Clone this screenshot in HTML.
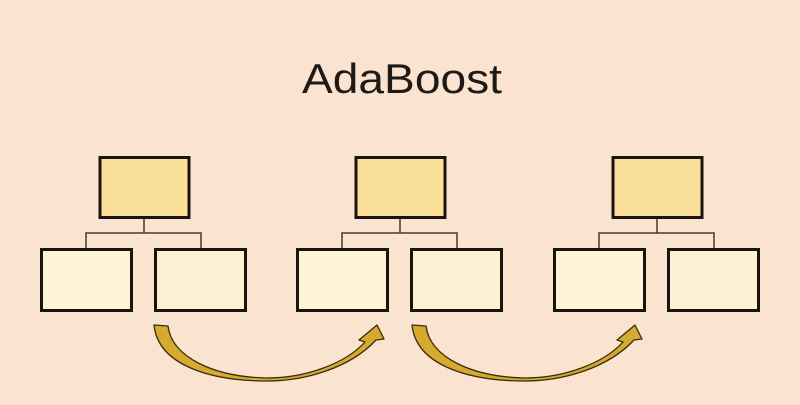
<!DOCTYPE html>
<html><head><style>html,body{margin:0;padding:0;background:#fae4cf;}</style></head>
<body>
<svg width="800" height="400" viewBox="0 0 800 400" xmlns="http://www.w3.org/2000/svg">
<rect width="800" height="400" fill="#fae4cf"/>
<text x="302" y="93" font-family="Liberation Sans, sans-serif" font-size="42" fill="#1e1a17" textLength="200" lengthAdjust="spacingAndGlyphs">AdaBoost</text>
<defs>
<g id="tree">
<path d="M144,218 V233 M86,249 V233 H201 V249" stroke="#4a3a2a" stroke-width="1.5" fill="none"/>
<rect x="100" y="157.5" width="89" height="60" fill="#fbe09a" stroke="#1a1410" stroke-width="3"/>
<rect x="41.5" y="249.5" width="90" height="61" fill="#fdf3d9" stroke="#1a1410" stroke-width="3"/>
<rect x="155.5" y="249.5" width="90" height="61" fill="#fdf0d5" stroke="#1a1410" stroke-width="3"/>
</g>
<g id="arr">
<path d="M154,325 L168,326 C172,358 215,377 267,378 C305,378 345,364 365,342 L359,340 L377,325 L384,339 L376,340 C350,368 305,381 267,381 C210,381 158,365 154,325 Z" fill="#d4ab2c" stroke="#3a2c10" stroke-width="1.3" stroke-linejoin="round"/>
</g>
</defs>
<use href="#tree"/>
<use href="#tree" x="256"/>
<use href="#tree" x="513"/>
<use href="#arr"/>
<use href="#arr" x="258"/>
</svg>
</body></html>
